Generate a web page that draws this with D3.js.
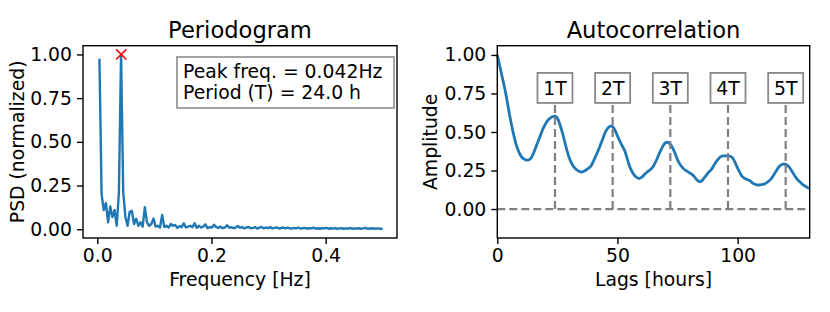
<!DOCTYPE html>
<html>
<head>
<meta charset="utf-8">
<script src="https://cdn.jsdelivr.net/npm/d3@7"></script>
<style>
  body { margin: 0; background: #fff; }
  svg { display: block; font-family: 'DejaVu Sans', sans-serif; }
</style>
</head>
<body>
<script>
// periodogram, bins k = 1..132 of a 264-sample hourly series
const nSamples = 264;
const psd = [
  0.975, 0.20, 0.11, 0.15, 0.04, 0.13, 0.07, 0.11, 0.02, 0.21,
  1.00, 0.215, 0.07, 0.02, 0.10, 0.105, 0.03, 0.06, 0.02, 0.04,
  0.015, 0.126, 0.04, 0.02, 0.03, 0.061, 0.015, 0.02, 0.01, 0.082,
  0.012, 0.02, 0.01, 0.03, 0.02, 0.025, 0.008, 0.018, 0.012, 0.034,
  0.01, 0.015, 0.02, 0.012, 0.034, 0.008, 0.02, 0.01, 0.015, 0.028,
  0.006, 0.012, 0.01, 0.026, 0.012, 0.008, 0.015, 0.006, 0.01, 0.023,
  0.008, 0.012, 0.006, 0.01, 0.019, 0.008, 0.012, 0.005, 0.01, 0.013,
  0.006, 0.008, 0.012, 0.004, 0.009, 0.013, 0.005, 0.01, 0.006, 0.012,
  0.005, 0.008, 0.011, 0.004, 0.007, 0.01, 0.005, 0.009, 0.006, 0.004,
  0.008, 0.005, 0.01, 0.004, 0.006, 0.008, 0.003, 0.007, 0.005, 0.009,
  0.004, 0.006, 0.003, 0.007, 0.005, 0.008, 0.003, 0.006, 0.004, 0.007,
  0.003, 0.005, 0.006, 0.003, 0.005, 0.004, 0.007, 0.003, 0.005, 0.004,
  0.006, 0.003, 0.005, 0.008, 0.003, 0.004, 0.006, 0.003, 0.005, 0.004,
  0.003, 0.002
];
const peakFreq = 0.042;
const peakPsd = 1.0;
const infoLines = ['Peak freq. = 0.042Hz', 'Period (T) = 24.0 h'];

// autocorrelation, lag 0..130 hours
const acf = [
  1.0, 0.93, 0.86, 0.79, 0.71, 0.62, 0.54, 0.47, 0.41, 0.37,
  0.34, 0.325, 0.318, 0.318, 0.33, 0.36, 0.40, 0.44, 0.48, 0.52,
  0.55, 0.575, 0.59, 0.60, 0.603, 0.59, 0.55, 0.50, 0.44, 0.38,
  0.33, 0.295, 0.27, 0.255, 0.245, 0.24, 0.245, 0.255, 0.265, 0.28,
  0.31, 0.345, 0.38, 0.42, 0.46, 0.50, 0.525, 0.538, 0.535, 0.51,
  0.475, 0.44, 0.41, 0.38, 0.33, 0.28, 0.245, 0.22, 0.205, 0.198,
  0.205, 0.22, 0.235, 0.248, 0.26, 0.28, 0.31, 0.345, 0.38, 0.41,
  0.43, 0.433, 0.42, 0.395, 0.36, 0.32, 0.29, 0.27, 0.255, 0.245,
  0.235, 0.225, 0.21, 0.19, 0.178, 0.182, 0.20, 0.22, 0.24, 0.255,
  0.28, 0.305, 0.325, 0.34, 0.345, 0.345, 0.345, 0.343, 0.33, 0.30,
  0.265, 0.235, 0.21, 0.198, 0.192, 0.185, 0.172, 0.162, 0.157, 0.156,
  0.158, 0.162, 0.17, 0.182, 0.198, 0.22, 0.245, 0.27, 0.285, 0.292,
  0.29, 0.28, 0.26, 0.235, 0.21, 0.19, 0.175, 0.16, 0.15, 0.14,
  0.134
];
const periodLags = [24, 48, 72, 96, 120];
const periodLabels = ['1T', '2T', '3T', '4T', '5T'];

const psdTicksX = [0, 0.2, 0.4];
const ampTicksY = [0, 0.25, 0.5, 0.75, 1.0];
const lagTicksX = [0, 50, 100];

const width = 830;
const height = 312;
const blue = '#1f77b4';
const fontSize = 18.8;
const titleSize = 22.6;

const svg = d3.select('body').append('svg').attr('width', width).attr('height', height);

function drawAxes(g, x, y, xTicks, xFmt, box, title, xLabel, yLabel, yLabelX) {
  const xAxis = d3.axisBottom(x).tickValues(xTicks).tickFormat(xFmt).tickSize(6).tickPadding(5);
  const yAxis = d3.axisLeft(y).tickValues(ampTicksY).tickFormat(d3.format('.2f')).tickSize(6).tickPadding(5);

  const gx = g.append('g').attr('transform', `translate(0,${box.bottom})`).call(xAxis);
  const gy = g.append('g').attr('transform', `translate(${box.left},0)`).call(yAxis);
  [gx, gy].forEach(a => {
    a.select('.domain').remove();
    a.selectAll('line').attr('stroke', '#000').attr('stroke-width', 1.4);
    a.selectAll('text').attr('font-size', fontSize).attr('fill', '#000').attr('font-family', 'DejaVu Sans');
  });

  g.append('rect')
    .attr('x', box.left).attr('y', box.top)
    .attr('width', box.right - box.left).attr('height', box.bottom - box.top)
    .attr('fill', 'none').attr('stroke', '#000').attr('stroke-width', 1.4);

  const cx = (box.left + box.right) / 2;
  g.append('text').attr('x', cx).attr('y', 37.5).attr('text-anchor', 'middle')
    .attr('font-size', titleSize).text(title);
  g.append('text').attr('x', cx).attr('y', 286).attr('text-anchor', 'middle')
    .attr('font-size', fontSize).text(xLabel);
  g.append('text')
    .attr('transform', `translate(${yLabelX},${(box.top + box.bottom) / 2}) rotate(-90)`)
    .attr('text-anchor', 'middle').attr('font-size', fontSize).text(yLabel);
}

// ---- Periodogram ----
const box1 = { left: 83, right: 397, top: 45.7, bottom: 238 };
const x1 = d3.scaleLinear().domain([-0.025, 0.525]).range([box1.left, box1.right]);
const y1 = d3.scaleLinear().domain([-0.05, 1.05]).range([box1.bottom, box1.top]);
const g1 = svg.append('g');

g1.append('path')
  .datum(psd)
  .attr('fill', 'none')
  .attr('stroke', blue)
  .attr('stroke-width', 2.4)
  .attr('stroke-linejoin', 'round')
  .attr('d', d3.line().x((d, i) => x1((i + 1) / nSamples)).y(d => y1(d)));

g1.append('path')
  .attr('transform', `translate(${x1(peakFreq)},${y1(peakPsd)})`)
  .attr('d', d3.symbol(d3.symbolTimes, 70)())
  .attr('fill', 'none').attr('stroke', 'red').attr('stroke-width', 1.6);

const info = g1.append('g');
info.append('rect').attr('x', 177).attr('y', 57).attr('width', 217).attr('height', 51)
  .attr('fill', '#fff').attr('stroke', '#999').attr('stroke-width', 1.8);
info.selectAll('text').data(infoLines).join('text')
  .attr('x', 183).attr('y', (d, i) => 77.5 + i * 21)
  .attr('font-size', fontSize).text(d => d);

drawAxes(g1, x1, y1, psdTicksX, d3.format('.1f'), box1, 'Periodogram', 'Frequency [Hz]', 'PSD (normalized)', 23.5);

// ---- Autocorrelation ----
const box2 = { left: 497.3, right: 809.7, top: 45.7, bottom: 238 };
const x2 = d3.scaleLinear().domain([0, 130]).range([box2.left, box2.right]);
const y2 = d3.scaleLinear().domain([-0.188, 1.06]).range([box2.bottom, box2.top]);
const g2 = svg.append('g');

g2.append('path')
  .datum(acf)
  .attr('fill', 'none')
  .attr('stroke', blue)
  .attr('stroke-width', 2.8)
  .attr('stroke-linejoin', 'round')
  .attr('d', d3.line().x((d, i) => x2(i)).y(d => y2(d)).curve(d3.curveCatmullRom));

g2.append('line')
  .attr('x1', box2.left).attr('x2', box2.right).attr('y1', y2(0)).attr('y2', y2(0))
  .attr('stroke', 'gray').attr('stroke-width', 2.2).attr('stroke-dasharray', '8,4');

g2.selectAll('.vl').data(periodLags).join('line').attr('class', 'vl')
  .attr('x1', d => x2(d)).attr('x2', d => x2(d))
  .attr('y1', y2(0)).attr('y2', y2(0.8))
  .attr('stroke', 'gray').attr('stroke-width', 2.2).attr('stroke-dasharray', '8,4');

const tags = g2.selectAll('.tag').data(periodLags).join('g').attr('class', 'tag')
  .attr('transform', d => `translate(${x2(d)},${y2(0.786)})`);
tags.append('rect').attr('x', -17.5).attr('y', -15).attr('width', 35).attr('height', 30)
  .attr('fill', '#fff').attr('stroke', '#888').attr('stroke-width', 1.8);
tags.append('text').attr('text-anchor', 'middle').attr('y', 6.8)
  .attr('font-size', fontSize).text((d, i) => periodLabels[i]);

drawAxes(g2, x2, y2, lagTicksX, d3.format('d'), box2, 'Autocorrelation', 'Lags [hours]', 'Amplitude', 436.5);
</script>
</body>
</html>
